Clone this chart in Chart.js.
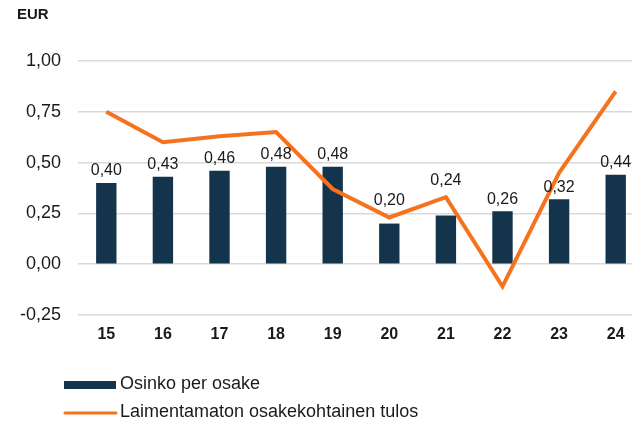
<!DOCTYPE html>
<html>
<head>
<meta charset="utf-8">
<script src="https://cdn.jsdelivr.net/npm/chart.js@4.4.1/dist/chart.umd.min.js"></script>
<style>
  html, body { margin: 0; padding: 0; background: #fff; overflow: hidden; }
  #chart { display: block; }
</style>
</head>
<body>
<canvas id="chart" width="650" height="425"></canvas>
<script>
// Vuodet (x-akseli)
const years = ['15', '16', '17', '18', '19', '20', '21', '22', '23', '24'];
// Osinko per osake, EUR
const dividend = [0.40, 0.43, 0.46, 0.48, 0.48, 0.20, 0.24, 0.26, 0.32, 0.44];
// Laimentamaton osakekohtainen tulos, EUR
const eps = [0.75, 0.60, 0.63, 0.65, 0.37, 0.23, 0.33, -0.11, 0.45, 0.85];
// Y-akselin asteikko
const yTicks = [-0.25, 0, 0.25, 0.5, 0.75, 1.0];

const navy = '#14344c';
const orange = '#f5731e';
const textColor = '#1a1a1a';

// Suomalainen desimaalipilkku
const fmt = v => v.toFixed(2).replace('.', ',');

// Arvot pylväiden yläpuolelle; nostetaan viivan yläpuolelle jos osuisivat siihen
const barLabels = {
  id: 'barLabels',
  afterDatasetsDraw(chart) {
    const ctx = chart.ctx;
    const bars = chart.getDatasetMeta(1).data;
    const pts = chart.getDatasetMeta(0).data;
    ctx.save();
    ctx.font = '16px "Liberation Sans", Arial, sans-serif';
    ctx.fillStyle = textColor;
    ctx.textAlign = 'center';
    ctx.textBaseline = 'middle';
    bars.forEach((bar, i) => {
      let y = bar.y - 12;
      const lineY = pts[i].y;
      if (Math.abs(lineY - y) < 12) y = lineY - 17;
      ctx.fillText(fmt(dividend[i]), bar.x, y);
    });
    ctx.restore();
  }
};

// Yksikkö vasempaan yläkulmaan ja selite alas
const extras = {
  id: 'extras',
  afterDraw(chart) {
    const ctx = chart.ctx;
    ctx.save();
    ctx.fillStyle = textColor;
    ctx.textBaseline = 'middle';
    ctx.font = 'bold 15px "Liberation Sans", Arial, sans-serif';
    ctx.fillText('EUR', 17, 15);

    ctx.font = '18px "Liberation Sans", Arial, sans-serif';
    // pylväs
    ctx.fillStyle = navy;
    ctx.fillRect(64, 381, 52, 8);
    ctx.fillStyle = textColor;
    ctx.fillText(chart.data.datasets[1].label, 120, 384);
    // viiva
    ctx.strokeStyle = orange;
    ctx.lineWidth = 3;
    ctx.lineCap = 'round';
    ctx.beginPath();
    ctx.moveTo(65, 413);
    ctx.lineTo(116, 413);
    ctx.stroke();
    ctx.fillText(chart.data.datasets[0].label, 120, 412);
    ctx.restore();
  }
};

new Chart(document.getElementById('chart'), {
  type: 'bar',
  data: {
    labels: years,
    datasets: [
      {
        type: 'line',
        label: 'Laimentamaton osakekohtainen tulos',
        data: eps,
        borderColor: orange,
        backgroundColor: orange,
        borderWidth: 4,
        pointRadius: 0,
        tension: 0,
        order: 0
      },
      {
        type: 'bar',
        label: 'Osinko per osake',
        data: dividend,
        backgroundColor: navy,
        categoryPercentage: 1,
        barPercentage: 0.36,
        order: 1
      }
    ]
  },
  options: {
    responsive: false,
    animation: false,
    layout: { padding: { top: 61, right: 6, bottom: 0, left: 0 } },
    plugins: {
      legend: { display: false },
      tooltip: { enabled: false }
    },
    scales: {
      x: {
        grid: { display: false, drawTicks: false },
        border: { display: false },
        ticks: {
          color: textColor,
          padding: 10,
          font: { family: '"Liberation Sans", Arial, sans-serif', size: 16, weight: 'bold' }
        },
        afterFit(scale) { scale.height = 110; }
      },
      y: {
        min: -0.25,
        max: 1.0,
        afterBuildTicks(scale) { scale.ticks = yTicks.map(v => ({ value: v })); },
        grid: { color: '#d9d9d9', lineWidth: 1.5, drawTicks: false },
        border: { display: false },
        ticks: {
          color: textColor,
          padding: 17,
          font: { family: '"Liberation Sans", Arial, sans-serif', size: 18 },
          callback: v => fmt(v)
        },
        afterFit(scale) { scale.width = 78; }
      }
    }
  },
  plugins: [barLabels, extras]
});
</script>
</body>
</html>
